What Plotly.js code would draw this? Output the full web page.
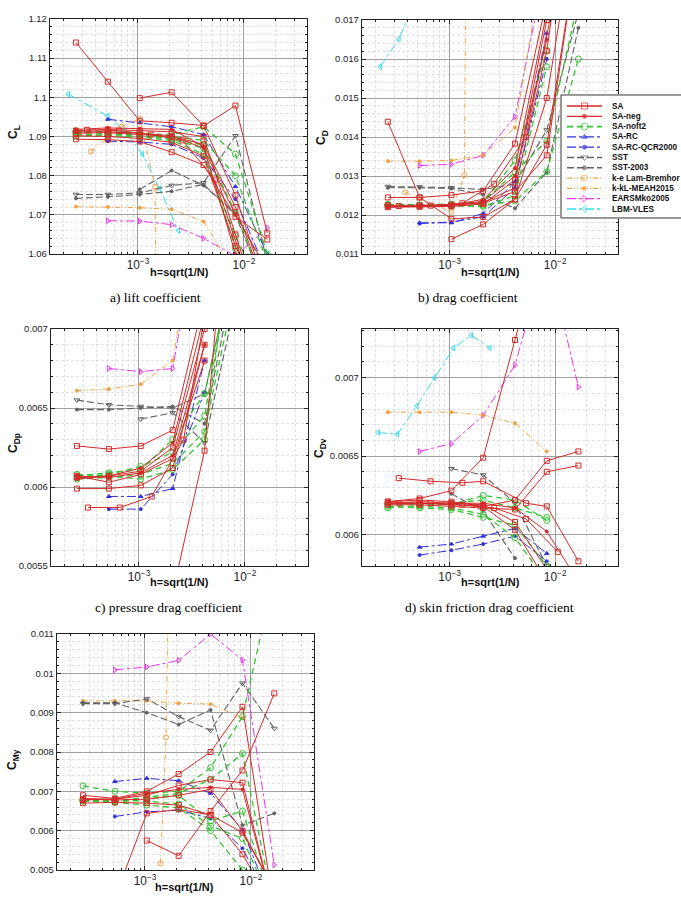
<!DOCTYPE html>
<html><head><meta charset="utf-8">
<script src="https://cdn.plot.ly/plotly-3.0.1.min.js"></script>
<style>html,body{margin:0;padding:0;background:#fff}#chart{width:681px;height:904px}</style>
</head><body><div id="chart"></div>
<script>
// ---------- categories ----------
const MODELS = ['SA','SA-neg','SA-noft2','SA-RC','SA-RC-QCR2000','SST','SST-2003','k-e Lam-Bremhor','k-kL-MEAH2015','EARSMko2005','LBM-VLES'];
const X_TITLE = 'h=sqrt(1/N)';
const CAPTIONS = ['a) lift coefficient','b) drag coefficient','c) pressure drag coefficient','d) skin friction drag coefficient'];

// ---------- grid spacings h ----------
const H  = [2.6e-4, 5.2e-4, 1.04e-3, 2.08e-3, 4.16e-3, 8.32e-3, 1.66e-2];
const H2 = [3.3e-4, 6.6e-4, 1.32e-3, 2.64e-3, 5.3e-3, 1.06e-2];

// ---------- a) C_L ----------
const CL_SA = [
  [1.114, 1.104, 1.094, 1.0935, 1.0928, 1.075, 1.050],
  [null, null, 1.0998, 1.1013, 1.0927, 1.0979, 1.0653],
  [1.0893, 1.0892, 1.0887, 1.0860, 1.0827, 1.0695, 1.0637],
  [1.0908, 1.0910, 1.0905, 1.0900, 1.0880, 1.0720, 1.0500],
  [1.0915, 1.0918, 1.0915, 1.0912, 1.0900, 1.0650, 1.0400],
  [1.0902, 1.0900, 1.0895, 1.0885, 1.0850, 1.0620, 1.0450]];
const CL_SA_H2 = [1.0917, 1.0915, 1.0905, 1.0890, 1.0790, 1.0550];
const CL_SANEG = [
  [1.0912, 1.0912, 1.0908, 1.0902, 1.0870, 1.0700, 1.0560],
  [1.0918, 1.0922, 1.0920, 1.0918, 1.0875, 1.0600, 1.0450]];
const CL_NOFT2 = [
  [1.0912, 1.0908, 1.0903, 1.0895, 1.0878, 1.0705, 1.0500],
  [1.0906, 1.0903, 1.0898, 1.0890, 1.0855, 1.0645, 1.0480],
  [1.0910, 1.0910, 1.0907, 1.0905, 1.0925, 1.0855, 1.0600],
  [1.0900, 1.0905, 1.0902, 1.0893, 1.0870, 1.0614, 1.0450],
  [1.0914, 1.0912, 1.0910, 1.0900, 1.0890, 1.0800, 1.0580]];
const CL_RC = [null, 1.0944, 1.0935, 1.0925, 1.0905, 1.0772, 1.0600];
const CL_QCR = [null, 1.0888, 1.0886, 1.0880, 1.0845, 1.0740, 1.0550];
const CL_SST = [1.0752, 1.0752, 1.0756, 1.0775, 1.0782, 1.0902, 1.0580];
const CL_SST03 = [
  [1.0742, 1.0746, 1.0752, 1.0760, 1.0778, 1.0700, 1.0500],
  [null, null, 1.0765, 1.0813, 1.0775, 1.0705, 1.0550]];
const CL_KE_H = [3.6e-4, 7.0e-4, 1.04e-3, 1.45e-3, 1.48e-3];
const CL_KE = [1.0862, 1.0925, 1.0945, 1.0772, 1.0400];
const CL_KKL = [1.0721, 1.0720, 1.0718, 1.0714, 1.0683, 1.0550, null];
const CL_EARSM = [null, 1.0685, 1.0684, 1.0675, 1.0640, 1.0595, 1.0667];
const CL_LBM_H = [2.2e-4, 5.2e-4, 7.5e-4, 1.1e-3, 1.6e-3, 2.4e-3];
const CL_LBM = [1.1008, 1.0952, 1.0915, 1.0855, 1.0767, 1.0660];

// ---------- b) C_D ----------
const CD_SA = [
  [0.01439, 0.01245, 0.01190, 0.01195, 0.01240, 0.0150, 0.0200],
  [null, null, 0.01138, 0.01176, 0.01240, 0.0138, 0.0190],
  [0.01245, 0.01245, 0.01251, 0.01262, 0.01383, 0.0175, null],
  [0.01222, 0.01222, 0.01224, 0.01232, 0.01270, 0.0162, 0.0220],
  [0.01220, 0.01221, 0.01222, 0.01228, 0.01290, 0.0170, null],
  [0.01225, 0.01225, 0.01227, 0.01230, 0.01260, 0.01353, 0.0190]];
const CD_SA_H2 = [0.01223, 0.01224, 0.01230, 0.01280, 0.01400, 0.0180];
const CD_SANEG = [
  [0.01221, 0.01222, 0.01225, 0.01235, 0.01300, 0.0165, null],
  [0.01222, 0.01223, 0.01226, 0.01240, 0.01320, 0.0172, null]];
const CD_NOFT2 = [
  [0.01225, 0.01224, 0.01226, 0.01225, 0.01236, 0.01311, 0.0160],
  [0.01227, 0.01226, 0.01228, 0.01232, 0.01340, 0.01622, null],
  [0.01224, 0.01225, 0.01227, 0.01235, 0.01310, 0.01390, 0.0175],
  [0.01226, 0.01225, 0.01224, 0.01222, 0.01250, 0.01580, null]];
const CD_RC = [null, 0.01180, 0.01180, 0.01204, 0.01285, 0.01666, null];
const CD_QCR = [null, 0.01178, 0.01182, 0.01195, 0.01270, 0.01600, null];
const CD_SST = [0.01273, 0.01272, 0.01270, 0.01265, 0.01280, 0.01418, 0.0172];
const CD_SST03 = [0.01270, 0.01270, 0.01268, 0.01252, 0.01217, 0.01310, 0.0168];
const CD_KE_H = [3.8e-4, 1.04e-3, 1.38e-3, 1.42e-3];
const CD_KE = [0.01258, 0.01208, 0.01302, 0.0180];
const CD_KKL = [0.01338, 0.01338, 0.01340, 0.01353, 0.01424, 0.0190, null];
const CD_EARSM = [null, 0.01327, 0.01330, 0.01353, 0.01452, 0.0185, null];
const CD_LBM_H = [2.2e-4, 3.3e-4, 4.9e-4];
const CD_LBM = [0.01580, 0.01651, 0.0176];

// ---------- c) C_Dp ----------
const CDP_SA = [
  [0.00626, 0.00624, 0.00626, 0.00636, 0.00720, null, null],
  [0.00599, 0.00599, 0.00601, 0.00612, 0.00690, null, null],
  [0.00607, 0.00603, 0.00608, 0.00618, 0.00680, null, null],
  [0.00606, 0.00607, 0.00610, 0.00625, 0.00700, null, null],
  [null, null, null, 0.00533, 0.00623, 0.00850, null]];
const CDP_SA_H2 = [0.00587, 0.00587, 0.00594, 0.00630, 0.00750, null];
const CDP_SANEG = [
  [0.00607, 0.00606, 0.00609, 0.00620, 0.00690, null, null],
  [0.00605, 0.00607, 0.00612, 0.00628, 0.00710, null, null]];
const CDP_NOFT2 = [
  [0.00607, 0.00609, 0.00611, 0.00630, 0.00659, 0.00750, null],
  [0.00605, 0.00606, 0.00608, 0.00615, 0.00635, 0.00730, null],
  [0.00608, 0.00607, 0.00605, 0.00611, 0.00630, 0.00780, null],
  [0.00606, 0.00608, 0.00613, 0.00622, 0.00645, 0.00760, null]];
const CDP_RC = [null, 0.00594, 0.00594, 0.00599, 0.00680, null, null];
const CDP_QCR = [null, 0.00586, 0.00586, 0.00608, 0.00660, null, null];
const CDP_SST = [
  [0.00655, 0.00652, 0.00651, 0.00650, 0.00659, 0.00750, null],
  [null, null, 0.00643, 0.00647, 0.00628, 0.00720, null]];
const CDP_SST03 = [0.00649, 0.00649, 0.00650, 0.00651, 0.00640, 0.00740, null];
const CDP_KKL = [0.00661, 0.00662, 0.00665, 0.00680, 0.00800, null, null];
const CDP_EARSM = [null, 0.00675, 0.00673, 0.00675, 0.00790, null, null];

// ---------- d) C_Dv ----------
const CDV_SA = [
  [0.00621, 0.00623, 0.00628, 0.00649, 0.00724, 0.00800, null],
  [0.00620, 0.00620, 0.00619, 0.00618, 0.00622, 0.00647, 0.00653],
  [0.00619, 0.00619, 0.00618, 0.00617, 0.00616, 0.00640, 0.00644],
  [0.00620, 0.00620, 0.00620, 0.00619, 0.00608, 0.00578, null],
  [0.00621, 0.00622, 0.00621, 0.00618, 0.00603, 0.00570, null]];
const CDV_SA_HX = [3.3e-4, 6.6e-4, 1.32e-3, 2.08e-3, 5.3e-3, 8.32e-3, 1.66e-2];
const CDV_SA_X = [0.00636, 0.00634, 0.00633, 0.00634, 0.00620, 0.00618, 0.00583];
const CDV_SA_H2 = [0.00620, 0.00620, 0.00619, 0.00617, 0.00610, 0.00589];
const CDV_SANEG = [0.00620, 0.00621, 0.00620, 0.00620, 0.00617, 0.00602, 0.00570];
const CDV_NOFT2 = [
  [0.00618, 0.00617, 0.00616, 0.00611, 0.00606, 0.00580, null],
  [0.00620, 0.00620, 0.00619, 0.00625, 0.00622, 0.00609, null],
  [0.00617, 0.00618, 0.00617, 0.00613, 0.00598, 0.00570, null],
  [0.00619, 0.00619, 0.00620, 0.00622, 0.00617, 0.00611, null]];
const CDV_RC = [null, 0.00592, 0.00594, 0.00599, 0.00604, 0.00588, null];
const CDV_QCR = [null, 0.00587, 0.00590, 0.00594, 0.00599, 0.00583, null];
const CDV_SST = [null, null, 0.00642, 0.00638, 0.00620, 0.00580, null];
const CDV_SST03 = [null, null, 0.00626, 0.00615, 0.00585, null, null];
const CDV_KKL = [0.00678, 0.00678, 0.00678, 0.00676, 0.00671, 0.00653, null];
const CDV_EARSM = [null, 0.00653, 0.00658, 0.00676, 0.00708, 0.00780, 0.00694];
const CDV_LBM_H = [2.1e-4, 3.2e-4, 4.9e-4, 7.2e-4, 1.09e-3, 1.6e-3, 2.4e-3];
const CDV_LBM = [0.00665, 0.00664, 0.00682, 0.00700, 0.00719, 0.00727, 0.00719];

// ---------- e) C_My ----------
const CMY_SA = [
  [0.00690, 0.00682, 0.00700, 0.00744, 0.00800, 0.00915, 0.00400],
  [0.00678, 0.00680, 0.00690, 0.00715, 0.00730, 0.00722, 0.00400],
  [null, null, 0.00575, 0.00536, 0.00650, 0.00753, 0.00949],
  [null, 0.00430, 0.00644, 0.00654, 0.00640, 0.00595, 0.00450],
  [0.00680, 0.00678, 0.00680, 0.00690, 0.00705, 0.00600, 0.00450],
  [0.00670, 0.00672, 0.00670, 0.00665, 0.00640, 0.00540, 0.00400]];
const CMY_SANEG = [0.00682, 0.00680, 0.00695, 0.00705, 0.00710, 0.00705, 0.00400];
const CMY_NOFT2 = [
  [0.00714, 0.00700, 0.00695, 0.00700, 0.00760, 0.00890, 0.01250],
  [0.00680, 0.00678, 0.00675, 0.00668, 0.00612, 0.00580, 0.00400],
  [0.00676, 0.00676, 0.00685, 0.00695, 0.00730, 0.00796, 0.00400],
  [0.00678, 0.00673, 0.00680, 0.00690, 0.00625, 0.00650, 0.00400],
  [0.00675, 0.00672, 0.00665, 0.00658, 0.00600, 0.00500, 0.00400]];
const CMY_RC = [null, 0.00725, 0.00733, 0.00727, 0.00695, 0.00602, 0.00400];
const CMY_QCR = [null, 0.00636, 0.00648, 0.00652, 0.00631, 0.00555, 0.00400];
const CMY_SST = [0.00923, 0.00923, 0.00935, 0.00890, 0.00855, 0.00975, 0.00860];
const CMY_SST03 = [0.00925, 0.00925, 0.00900, 0.00870, 0.00907, 0.00614, 0.00644];
const CMY_KE_H = [1.40e-3, 1.58e-3, 1.65e-3];
const CMY_KE = [0.00517, 0.00837, 0.01150];
const CMY_KKL = [0.00930, 0.00930, 0.00930, 0.00924, 0.00922, 0.00886, null];
const CMY_EARSM = [null, 0.01009, 0.01016, 0.01033, 0.01100, 0.01034, 0.00513];

// ---------- styles ----------
const DDOT = '5px,2px,1px,2px,1px,2px';
const STYLE = {
  'SA':              {color:'#d42a2a', dash:'solid',   width:1.0, symbol:'square-open',        size:5},
  'SA-neg':          {color:'#d42a2a', dash:'solid',   width:1.0, symbol:'circle',             size:3},
  'SA-noft2':        {color:'#33c433', dash:'6px,4px', width:1.3, symbol:'circle-open',        size:6},
  'SA-RC':           {color:'#3030dd', dash:'dashdot', width:1.0, symbol:'triangle-up',        size:4},
  'SA-RC-QCR2000':   {color:'#3030dd', dash:'dashdot', width:1.0, symbol:'circle',             size:3},
  'SST':             {color:'#626262', dash:'7px,3px', width:1.1, symbol:'triangle-down-open', size:5},
  'SST-2003':        {color:'#626262', dash:'7px,3px', width:1.1, symbol:'circle',             size:3},
  'k-e Lam-Bremhor': {color:'#f4a040', dash:DDOT,      width:1.0, symbol:'circle-open',        size:5},
  'k-kL-MEAH2015':   {color:'#f4a040', dash:DDOT,      width:1.0, symbol:'circle',             size:3},
  'EARSMko2005':     {color:'#ee33ee', dash:'dashdot', width:1.0, symbol:'triangle-right-open',size:5},
  'LBM-VLES':        {color:'#33ddee', dash:'dashdot', width:1.0, symbol:'triangle-left-open', size:5}
};

const traces = [];
function add(ax, model, h, y) {
  const s = STYLE[model];
  traces.push({type:'scatter', mode:'lines+markers', x:h, y:y, xaxis:'x'+ax, yaxis:'y'+ax,
    line:{color:s.color, dash:s.dash, width:s.width},
    marker:{symbol:s.symbol, size:s.size, color:s.color, line:{color:s.color, width:1}},
    showlegend:false, hoverinfo:'skip', name:model});
}
function addMany(ax, model, h, list) { list.forEach(y => add(ax, model, h, y)); }

// a
add('', 'LBM-VLES', CL_LBM_H, CL_LBM);
add('', 'EARSMko2005', H, CL_EARSM);
add('', 'k-kL-MEAH2015', H, CL_KKL);
add('', 'k-e Lam-Bremhor', CL_KE_H, CL_KE);
addMany('', 'SST-2003', H, CL_SST03);
add('', 'SST', H, CL_SST);
add('', 'SA-RC-QCR2000', H, CL_QCR);
add('', 'SA-RC', H, CL_RC);
addMany('', 'SA-noft2', H, CL_NOFT2);
addMany('', 'SA-neg', H, CL_SANEG);
addMany('', 'SA', H, CL_SA);
add('', 'SA', H2, CL_SA_H2);
// b
add('2', 'LBM-VLES', CD_LBM_H, CD_LBM);
add('2', 'EARSMko2005', H, CD_EARSM);
add('2', 'k-kL-MEAH2015', H, CD_KKL);
add('2', 'k-e Lam-Bremhor', CD_KE_H, CD_KE);
add('2', 'SST-2003', H, CD_SST03);
add('2', 'SST', H, CD_SST);
add('2', 'SA-RC-QCR2000', H, CD_QCR);
add('2', 'SA-RC', H, CD_RC);
addMany('2', 'SA-noft2', H, CD_NOFT2);
addMany('2', 'SA-neg', H, CD_SANEG);
addMany('2', 'SA', H, CD_SA);
add('2', 'SA', H2, CD_SA_H2);
// c
add('3', 'EARSMko2005', H, CDP_EARSM);
add('3', 'k-kL-MEAH2015', H, CDP_KKL);
add('3', 'SST-2003', H, CDP_SST03);
addMany('3', 'SST', H, CDP_SST);
add('3', 'SA-RC-QCR2000', H, CDP_QCR);
add('3', 'SA-RC', H, CDP_RC);
addMany('3', 'SA-noft2', H, CDP_NOFT2);
addMany('3', 'SA-neg', H, CDP_SANEG);
addMany('3', 'SA', H, CDP_SA);
add('3', 'SA', H2, CDP_SA_H2);
// d
add('4', 'LBM-VLES', CDV_LBM_H, CDV_LBM);
add('4', 'EARSMko2005', H, CDV_EARSM);
add('4', 'k-kL-MEAH2015', H, CDV_KKL);
add('4', 'SST-2003', H, CDV_SST03);
add('4', 'SST', H, CDV_SST);
add('4', 'SA-RC-QCR2000', H, CDV_QCR);
add('4', 'SA-RC', H, CDV_RC);
addMany('4', 'SA-noft2', H, CDV_NOFT2);
add('4', 'SA-neg', H, CDV_SANEG);
addMany('4', 'SA', H, CDV_SA);
add('4', 'SA', CDV_SA_HX, CDV_SA_X);
add('4', 'SA', H2, CDV_SA_H2);
// e
add('5', 'EARSMko2005', H, CMY_EARSM);
add('5', 'k-kL-MEAH2015', H, CMY_KKL);
add('5', 'k-e Lam-Bremhor', CMY_KE_H, CMY_KE);
add('5', 'SST-2003', H, CMY_SST03);
add('5', 'SST', H, CMY_SST);
add('5', 'SA-RC-QCR2000', H, CMY_QCR);
add('5', 'SA-RC', H, CMY_RC);
addMany('5', 'SA-noft2', H, CMY_NOFT2);
add('5', 'SA-neg', H, CMY_SANEG);
addMany('5', 'SA', H, CMY_SA);

// ---------- legend panel (own small axes) ----------
const LEG_ROW = MODELS.map((m, i) => i);
traces.push({type:'scatter', mode:'lines', x:[1, 300, 300, 1, 1], y:[-1.07, -1.07, 10.87, 10.87, -1.07],
  xaxis:'x6', yaxis:'y6', fill:'toself', fillcolor:'#ffffff', line:{color:'#333', width:1},
  showlegend:false, hoverinfo:'skip'});
MODELS.forEach((m, i) => {
  const s = STYLE[m];
  traces.push({type:'scatter', mode:'lines+markers', x:[7, 24.5, 42], y:[LEG_ROW[i], LEG_ROW[i], LEG_ROW[i]],
    xaxis:'x6', yaxis:'y6', line:{color:s.color, dash:s.dash, width:s.width + 0.3},
    marker:{symbol:s.symbol, size:[0, s.size + 1, 0], color:s.color, line:{color:s.color, width:1}},
    showlegend:false, hoverinfo:'skip', name:m});
});

// ---------- layout ----------
const W = 681, HT = 904;
const px = v => v / W, py = v => 1 - v / HT;
const TICKFONT = {family:'Arial, Liberation Sans, sans-serif', size:9.5, color:'#222'};
const MINORGRID = {showgrid:true, gridcolor:'#d4d4d4', griddash:'3px,2px', gridwidth:0.7, ticks:'inside', ticklen:2, tickcolor:'#222'};

function xAxis(l, r, anchor) {
  return {type:'log', domain:[px(l), px(r)], range:[-3.83, -1.405], dtick:1, exponentformat:'power',
    anchor:anchor, ticks:'inside', ticklen:4, tickcolor:'#222', mirror:'ticks', showline:true,
    linecolor:'#222', linewidth:1.2, showgrid:true, gridcolor:'#8a8a8a', gridwidth:0.8, zeroline:false,
    tickfont:TICKFONT, minor:{dtick:'D1', ...MINORGRID}};
}
function yAxis(t, b, anchor, range, dtick, minor) {
  return {domain:[py(b), py(t)], range:range, dtick:dtick, tick0:range[0], anchor:anchor,
    ticks:'inside', ticklen:4, tickcolor:'#222', mirror:'ticks', showline:true, linecolor:'#222', linewidth:1.2,
    showgrid:true, gridcolor:'#8a8a8a', gridwidth:0.8, zeroline:false, tickfont:TICKFONT,
    minor:{dtick:minor, tick0:range[0], ...MINORGRID}};
}

const BOLD = {family:'Arial, Liberation Sans, sans-serif', size:11, color:'#111'};
const CAPF = {family:'Liberation Serif, Times New Roman, serif', size:13.5, color:'#000'};
const ann = [];
function base(x, y) { return {xref:'paper', yref:'paper', x:px(x), y:py(y), xanchor:'center', yanchor:'middle', showarrow:false}; }
function yt(text, x, y) { ann.push({...base(x, y), text:'<b>' + text + '</b>', textangle:-90, font:{...BOLD, size:12}}); }
function xt(x, y) { ann.push({...base(x, y), text:'<b>' + X_TITLE + '</b>', font:BOLD}); }
function cap(text, x, y) { ann.push({...base(x, y), text:text, font:CAPF}); }

yt('C<sub>L</sub>', 14, 132); yt('C<sub>D</sub>', 322, 138);
yt('C<sub>Dp</sub>', 14, 443); yt('C<sub>Dv</sub>', 320, 448); yt('C<sub>My</sub>', 13, 760);
xt(179, 272); xt(490, 272); xt(179, 582); xt(490, 582); xt(184, 887);
cap(CAPTIONS[0], 155, 297); cap(CAPTIONS[1], 468, 297); cap(CAPTIONS[2], 168, 607); cap(CAPTIONS[3], 489, 607);
MODELS.forEach((m, i) => ann.push({text:'<b>' + m + '</b>', xref:'x6', yref:'y6', x:50, y:LEG_ROW[i],
  xanchor:'left', yanchor:'middle', showarrow:false, font:{family:'Arial, Liberation Sans, sans-serif', size:8.2, color:'#111'}}));

const layout = {
  width:W, height:HT, margin:{l:0, r:0, t:0, b:0, autoexpand:false},
  paper_bgcolor:'#fff', plot_bgcolor:'#fff', showlegend:false,
  xaxis: xAxis(50, 307, 'y'),   yaxis: yAxis(19, 254, 'x', [1.06, 1.12], 0.01, 0.002),
  xaxis2: xAxis(362, 618, 'y2'), yaxis2: yAxis(20, 254, 'x2', [0.011, 0.017], 0.001, 0.0002),
  xaxis3: xAxis(51, 308, 'y3'), yaxis3: yAxis(329, 566, 'x3', [0.0055, 0.007], 0.0005, 0.0001),
  xaxis4: xAxis(362, 618, 'y4'), yaxis4: yAxis(329, 566, 'x4', [0.0058, 0.00731], 0.0005, 0.0001),
  xaxis5: xAxis(57, 314, 'y5'), yaxis5: yAxis(634, 870, 'x5', [0.005, 0.011], 0.001, 0.0002),
  xaxis6: {domain:[px(560), 1], range:[0, 121], visible:false, anchor:'y6', fixedrange:true},
  yaxis6: {domain:[py(219), py(94)], range:[10.97, -1.165], visible:false, anchor:'x6', fixedrange:true},
  annotations: ann
};
layout.yaxis4.tick0 = 0.006; layout.yaxis4.minor.tick0 = 0.006;

Plotly.newPlot('chart', traces, layout, {staticPlot:true, displayModeBar:false});
</script></body></html>
